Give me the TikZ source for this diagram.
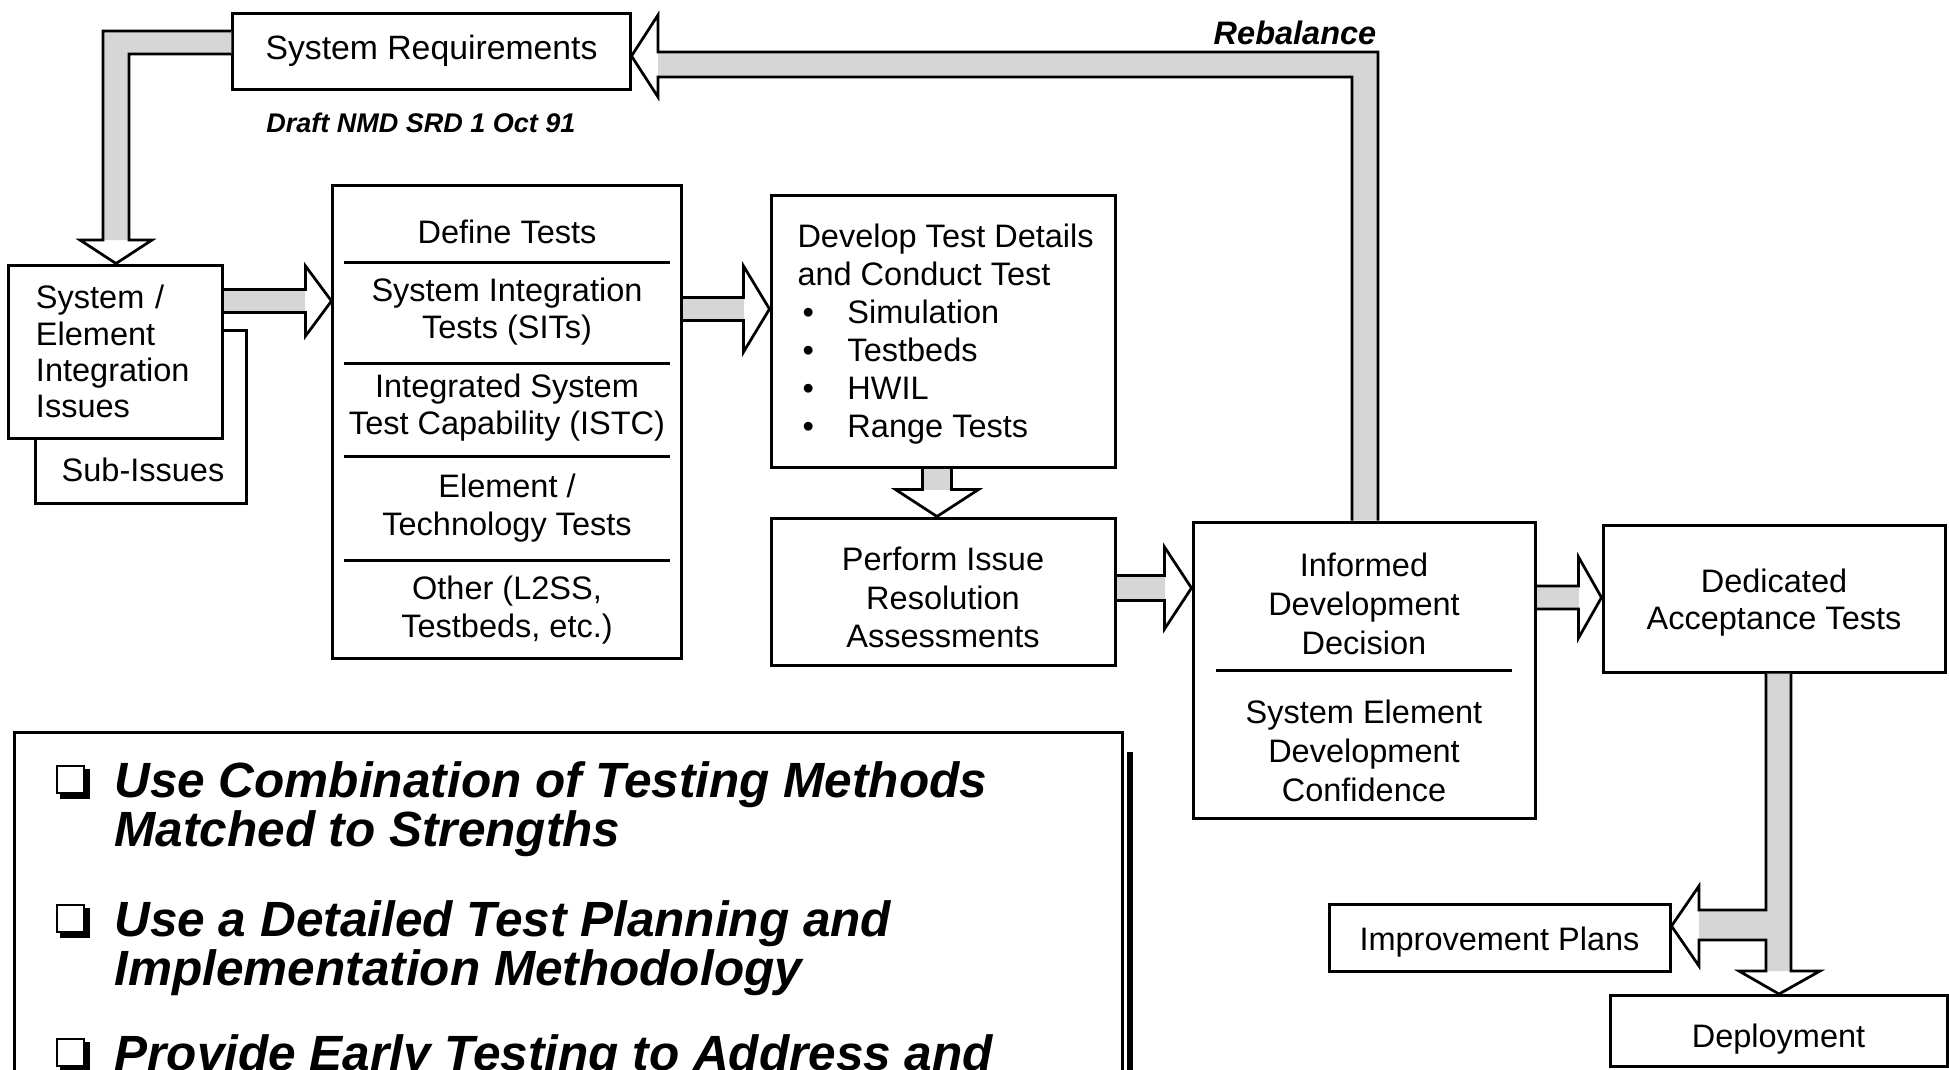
\documentclass[tikz,border=0pt]{standalone}
\usepackage{fontspec}
\setmainfont{Liberation Sans}
\usetikzlibrary{calc}
\newcommand\bxfont{\fontsize{13}{15}\selectfont}
\newcommand\rblk[5]{%
 \fill[white] ($(#2)+(-#5,-#4)$) -- (#2) -- ($(#2)+(-#5,#4)$) -- cycle;
 \fill[shaft] ($(#1)+(0,-#3)$) rectangle ($(#2)+(-#5,#3)$);
 \draw[blk] ($(#1)+(0,-#3)$) -- ($(#2)+(-#5,-#3)$) -- ($(#2)+(-#5,-#4)$) -- (#2) -- ($(#2)+(-#5,#4)$) -- ($(#2)+(-#5,#3)$) -- ($(#1)+(0,#3)$);}
\newcommand\dblk[5]{%
 \fill[white] ($(#2)+(-#4,-#5)$) -- (#2) -- ($(#2)+(#4,-#5)$) -- cycle;
 \fill[shaft] ($(#1)+(-#3,0)$) rectangle ($(#2)+(#3,-#5)$);
 \draw[blk] ($(#1)+(-#3,0)$) -- ($(#2)+(-#3,-#5)$) -- ($(#2)+(-#4,-#5)$) -- (#2) -- ($(#2)+(#4,-#5)$) -- ($(#2)+(#3,-#5)$) -- ($(#1)+(#3,0)$);}
\newcommand\itm[1]{\hspace*{2pt}\makebox[18pt][l]{•}#1}
\tikzset{
 box/.style={draw, line width=1.2pt, fill=white, inner sep=0pt, align=center, font=\bxfont},
 txt/.style={inner sep=0pt, align=center, font=\bxfont},
 blk/.style={draw, line width=1.1pt, line join=miter},
 shaft/.style={fill=black!16},
 divider/.style={line width=1.2pt},
 note/.style={inner sep=0pt, anchor=north west, align=left, font=\fontsize{19.8}{19.6}\selectfont\bfseries\itshape},
 cbox/.pic={\draw[line width=1.1pt] (0,-31) rectangle (27,-4);
            \draw[line width=2.4pt] (29.5,-28) -- (29.5,-1.5) -- (3,-1.5);},
}
\begin{document}
\begin{tikzpicture}[x=0.4pt,y=-0.4pt]
\useasboundingbox (0,0) rectangle (1949,1069);
\clip (0,0) rectangle (1949,1069);
\fill[white] (0,0) rectangle (1949,1069);

% ---- boxes ----
\node[box, minimum width=158.8pt, minimum height=30.4pt, font=\fontsize{13.5}{15}\selectfont] (sysreq) at (431.5,51) {System Requirements};
\node[inner sep=0pt, font=\fontsize{10.8}{12}\selectfont\bfseries\itshape] (draft) at (421,123) {Draft NMD SRD 1 Oct 91};
\node[inner sep=0pt, font=\fontsize{13}{15}\selectfont\bfseries\itshape] (rebal) at (1295,33) {Rebalance};

\node[box, minimum width=84pt, minimum height=69.2pt] (subiss) at (141,416.5) {};
\node[txt] (subtxt) at (143,470) {Sub-Issues};
\node[box, minimum width=85.2pt, minimum height=69.2pt, align=left, text width=63.6pt, font=\fontsize{13}{14.5}\selectfont] (issues) at (115.5,351.5) {System /\\Element\\Integration\\Issues};

\node[box, minimum width=139.2pt, minimum height=189.2pt] (deftests) at (507,421.5) {};
\node[txt] (dt1) at (507,232) {Define Tests};
\node[txt] (dt2) at (507,311.5) {System Integration\\Tests (SITs)};
\node[txt] (dt3) at (507,407.5) {Integrated System\\Test Capability (ISTC)};
\node[txt] (dt4) at (507,508) {Element /\\Technology Tests};
\node[txt] (dt5) at (507,610) {Other (L2SS,\\Testbeds, etc.)};
\foreach \yy in {262,363,456,560} \draw[divider] (344,\yy) -- (670,\yy);

\node[box, minimum width=137.6pt, minimum height=108.8pt] (develop) at (943,331) {};
\node[txt, anchor=west, align=left, font=\fontsize{13}{15.2}\selectfont] (devtxt) at (797,334)
 {Develop Test Details\\and Conduct Test\\\itm{Simulation}\\\itm{Testbeds}\\\itm{HWIL}\\\itm{Range Tests}};

\node[box, minimum width=137.6pt, minimum height=58.8pt] (perform) at (943,591.5) {};
\node[txt, font=\fontsize{13}{15.4}\selectfont] (perftxt) at (943,597.5) {Perform Issue\\Resolution\\Assessments};

\node[box, minimum width=136.8pt, minimum height=118.4pt] (informed) at (1364,670) {};
\node[txt, font=\fontsize{13}{15.5}\selectfont] (inf1) at (1364,604) {Informed\\Development\\Decision};
\node[txt, font=\fontsize{13}{15.5}\selectfont] (inf2) at (1364,751) {System Element\\Development\\Confidence};
\draw[divider] (1216,670) -- (1512,670);

\node[box, minimum width=136.8pt, minimum height=58.8pt] (dedicated) at (1774,598.5) {};
\node[txt] (dedtxt) at (1774,602.5) {Dedicated\\Acceptance Tests};
\node[box, minimum width=136.4pt, minimum height=26.8pt] (improve) at (1499.5,937.5) {};
\node[txt] (imptxt) at (1499.5,942) {Improvement Plans};
\node[box, minimum width=134.8pt, minimum height=28.4pt] (deploy) at (1778.5,1031) {};
\node[txt] (deptxt) at (1778.5,1039) {Deployment};

% ---- notes box ----
\node[draw, line width=1.2pt, minimum width=443.2pt, minimum height=149.6pt, anchor=north west, inner sep=0pt] (notes) at (13,731) {};
\draw[line width=2.2pt] (1130,752) -- (1130,1100);
\pic at (57,797) {cbox};
\pic at (57,936) {cbox};
\pic at (57,1070) {cbox};
\node[note] (n1) at (114,761) {Use Combination of Testing Methods\\Matched to Strengths};
\node[note] (n2) at (114,900) {Use a Detailed Test Planning and\\Implementation Methodology};
\node[note] (n3) at (114,1034) {Provide Early Testing to Address and};

% ---- block arrows ----
% System Requirements -> System/Element Integration Issues
\coordinate (aS) at (sysreq.west |- 0,41.5);
\coordinate (aT) at (issues.north -| 116,0);
\fill[white] (152,240) -- (aT) -- (80,240) -- cycle;
\fill[shaft] (aS |- 0,31) -- (103,31) -- (103,240) -- (129,240) -- (129,54) -- (aS |- 0,54) -- cycle;
\draw[blk] (aS |- 0,31) -- (103,31) -- (103,240) -- (80,240) -- (aT) -- (152,240) -- (129,240) -- (129,54) -- (aS |- 0,54);

% Issues -> Define Tests
\coordinate (cA) at (issues.east |- 0,301);
\coordinate (cB) at (deftests.west |- 0,301);
\rblk{cA}{cB}{11.5}{35}{26}
% Define Tests -> Develop
\coordinate (dA) at (deftests.east |- 0,309);
\coordinate (dB) at (develop.west |- 0,309);
\rblk{dA}{dB}{11.5}{43}{26}
% Develop -> Perform
\coordinate (eA) at (develop.south -| 937,0);
\coordinate (eB) at (perform.north -| 937,0);
\dblk{eA}{eB}{14.5}{41.5}{27}
% Perform -> Informed
\coordinate (fA) at (perform.east |- 0,588);
\coordinate (fB) at (informed.west |- 0,588);
\rblk{fA}{fB}{12.5}{41}{27}
% Informed -> Dedicated
\coordinate (gA) at (informed.east |- 0,597.5);
\coordinate (gB) at (dedicated.west |- 0,597.5);
\rblk{gA}{gB}{11.5}{40.5}{23}

% Rebalance: Informed -> System Requirements
\coordinate (bS) at (informed.north -| 1365,0);
\coordinate (bT) at (sysreq.east |- 0,56);
\fill[white] (658,97) -- (bT) -- (658,15) -- cycle;
\fill[shaft] (bS -| 1352,0) -- (1352,77) -- (658,77) -- (658,52) -- (1378,52) -- (bS -| 1378,0) -- cycle;
\draw[blk] (bS -| 1352,0) -- (1352,77) -- (658,77) -- (658,97) -- (bT) -- (658,15) -- (658,52) -- (1378,52) -- (bS -| 1378,0);

% Dedicated -> Improvement Plans / Deployment
\coordinate (hS) at (dedicated.south -| 1778.5,0);
\coordinate (hT1) at (improve.east |- 0,926);
\coordinate (hT2) at (deploy.north -| 1779,0);
\fill[white] (1699,886) -- (hT1) -- (1699,966) -- cycle;
\fill[white] (1739,971) -- (hT2) -- (1820,971) -- cycle;
\fill[shaft] (hS -| 1766,0) -- (1766,910) -- (1699,910) -- (1699,940) -- (1766,940) -- (1766,971) -- (1791,971) -- (hS -| 1791,0) -- cycle;
\draw[blk] (hS -| 1766,0) -- (1766,910) -- (1699,910) -- (1699,886) -- (hT1) -- (1699,966) -- (1699,940) -- (1766,940) -- (1766,971) -- (1739,971) -- (hT2) -- (1820,971) -- (1791,971) -- (hS -| 1791,0);
\end{tikzpicture}
\end{document}
